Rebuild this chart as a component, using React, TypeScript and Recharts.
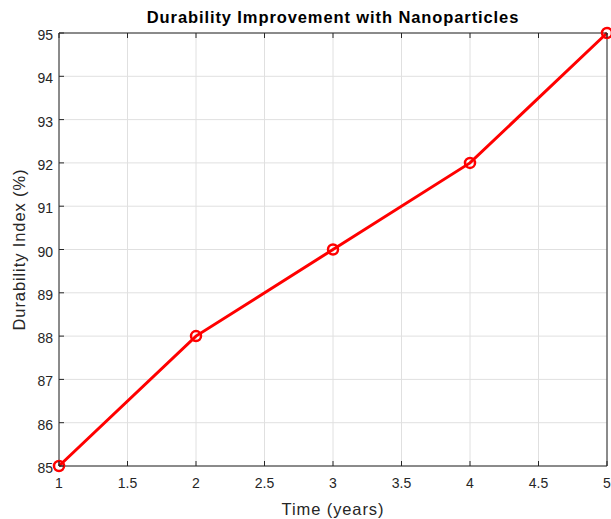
import React from "react";
import { LineChart, Line, XAxis, YAxis, CartesianGrid } from "recharts";

const years = [1, 2, 3, 4, 5];
const durability = [85, 88, 90, 92, 95];
const xTicks = [1, 1.5, 2, 2.5, 3, 3.5, 4, 4.5, 5];
const yTicks = [85, 86, 87, 88, 89, 90, 91, 92, 93, 94, 95];

const data = years.map((t, i) => ({ t, v: durability[i] }));

const FONT = "'Liberation Sans', Arial, Helvetica, sans-serif";
const AXIS = "#262626";

function BottomTick({ x, y, payload }: any) {
  return (
    <g>
      <line x1={x} x2={x} y1={y} y2={y - 5} stroke={AXIS} strokeWidth={1} />
      <text x={x} y={y + 22} textAnchor="middle" fontSize={14} fill={AXIS} fontFamily={FONT}>
        {payload.value}
      </text>
    </g>
  );
}

function LeftTick({ x, y, payload }: any) {
  return (
    <g>
      <line x1={x} x2={x + 5} y1={y} y2={y} stroke={AXIS} strokeWidth={1} />
      <text x={x - 6} y={y + 7} textAnchor="end" fontSize={14} fill={AXIS} fontFamily={FONT}>
        {payload.value}
      </text>
    </g>
  );
}

function TopTick({ x, y }: any) {
  return <line x1={x} x2={x} y1={y} y2={y + 5} stroke={AXIS} strokeWidth={1} />;
}

function RightTick({ x, y }: any) {
  return <line x1={x} x2={x - 5} y1={y} y2={y} stroke={AXIS} strokeWidth={1} />;
}

const xLabel = (props: any) => {
  const vb = props.viewBox;
  return (
    <text
      x={vb.x + vb.width / 2}
      y={515}
      textAnchor="middle"
      fontSize={16.5}
      letterSpacing={0.9}
      fill={AXIS}
      fontFamily={FONT}
    >
      Time (years)
    </text>
  );
};

const yLabel = (props: any) => {
  const vb = props.viewBox;
  const cy = vb.y + vb.height / 2;
  return (
    <text
      x={25}
      y={cy}
      transform={`rotate(-90 25 ${cy})`}
      textAnchor="middle"
      fontSize={16.5}
      letterSpacing={0.9}
      fill={AXIS}
      fontFamily={FONT}
    >
      Durability Index (%)
    </text>
  );
};

export default function App() {
  return (
    <div style={{ position: "absolute", left: 0, top: 0, width: 611, height: 519, background: "#fff" }}>
      <svg width={611} height={30} style={{ position: "absolute", left: 0, top: 0 }}>
        <text
          x={333}
          y={23}
          textAnchor="middle"
          fontSize={16.5}
          fontWeight="bold"
          letterSpacing={0.9}
          fill="#000"
          fontFamily={FONT}
        >
          Durability Improvement with Nanoparticles
        </text>
      </svg>
      <LineChart width={611} height={519} data={data} margin={{ top: 32, right: 3, bottom: 0, left: 0 }}>
        <CartesianGrid stroke="#e0e0e0" strokeWidth={1} />
        <XAxis
          dataKey="t"
          type="number"
          domain={[1, 5]}
          ticks={xTicks}
          height={53}
          stroke={AXIS}
          tickSize={0}
          tickMargin={0}
          tick={<BottomTick />}
          label={xLabel}
        />
        <XAxis
          xAxisId="top"
          orientation="top"
          dataKey="t"
          type="number"
          domain={[1, 5]}
          ticks={xTicks}
          height={1}
          stroke={AXIS}
          tickSize={0}
          tickMargin={0}
          tick={<TopTick />}
        />
        <YAxis
          type="number"
          domain={[85, 95]}
          ticks={yTicks}
          width={59}
          stroke={AXIS}
          tickSize={0}
          tickMargin={0}
          tick={<LeftTick />}
          label={yLabel}
        />
        <YAxis
          yAxisId="right"
          orientation="right"
          type="number"
          domain={[85, 95]}
          ticks={yTicks}
          width={1}
          stroke={AXIS}
          tickSize={0}
          tickMargin={0}
          tick={<RightTick />}
        />
        <Line
          type="linear"
          dataKey="v"
          stroke="#ff0000"
          strokeWidth={3}
          dot={{ r: 5, stroke: "#ff0000", strokeWidth: 2.5, fill: "none" }}
          activeDot={false}
          isAnimationActive={false}
        />
      </LineChart>
    </div>
  );
}
